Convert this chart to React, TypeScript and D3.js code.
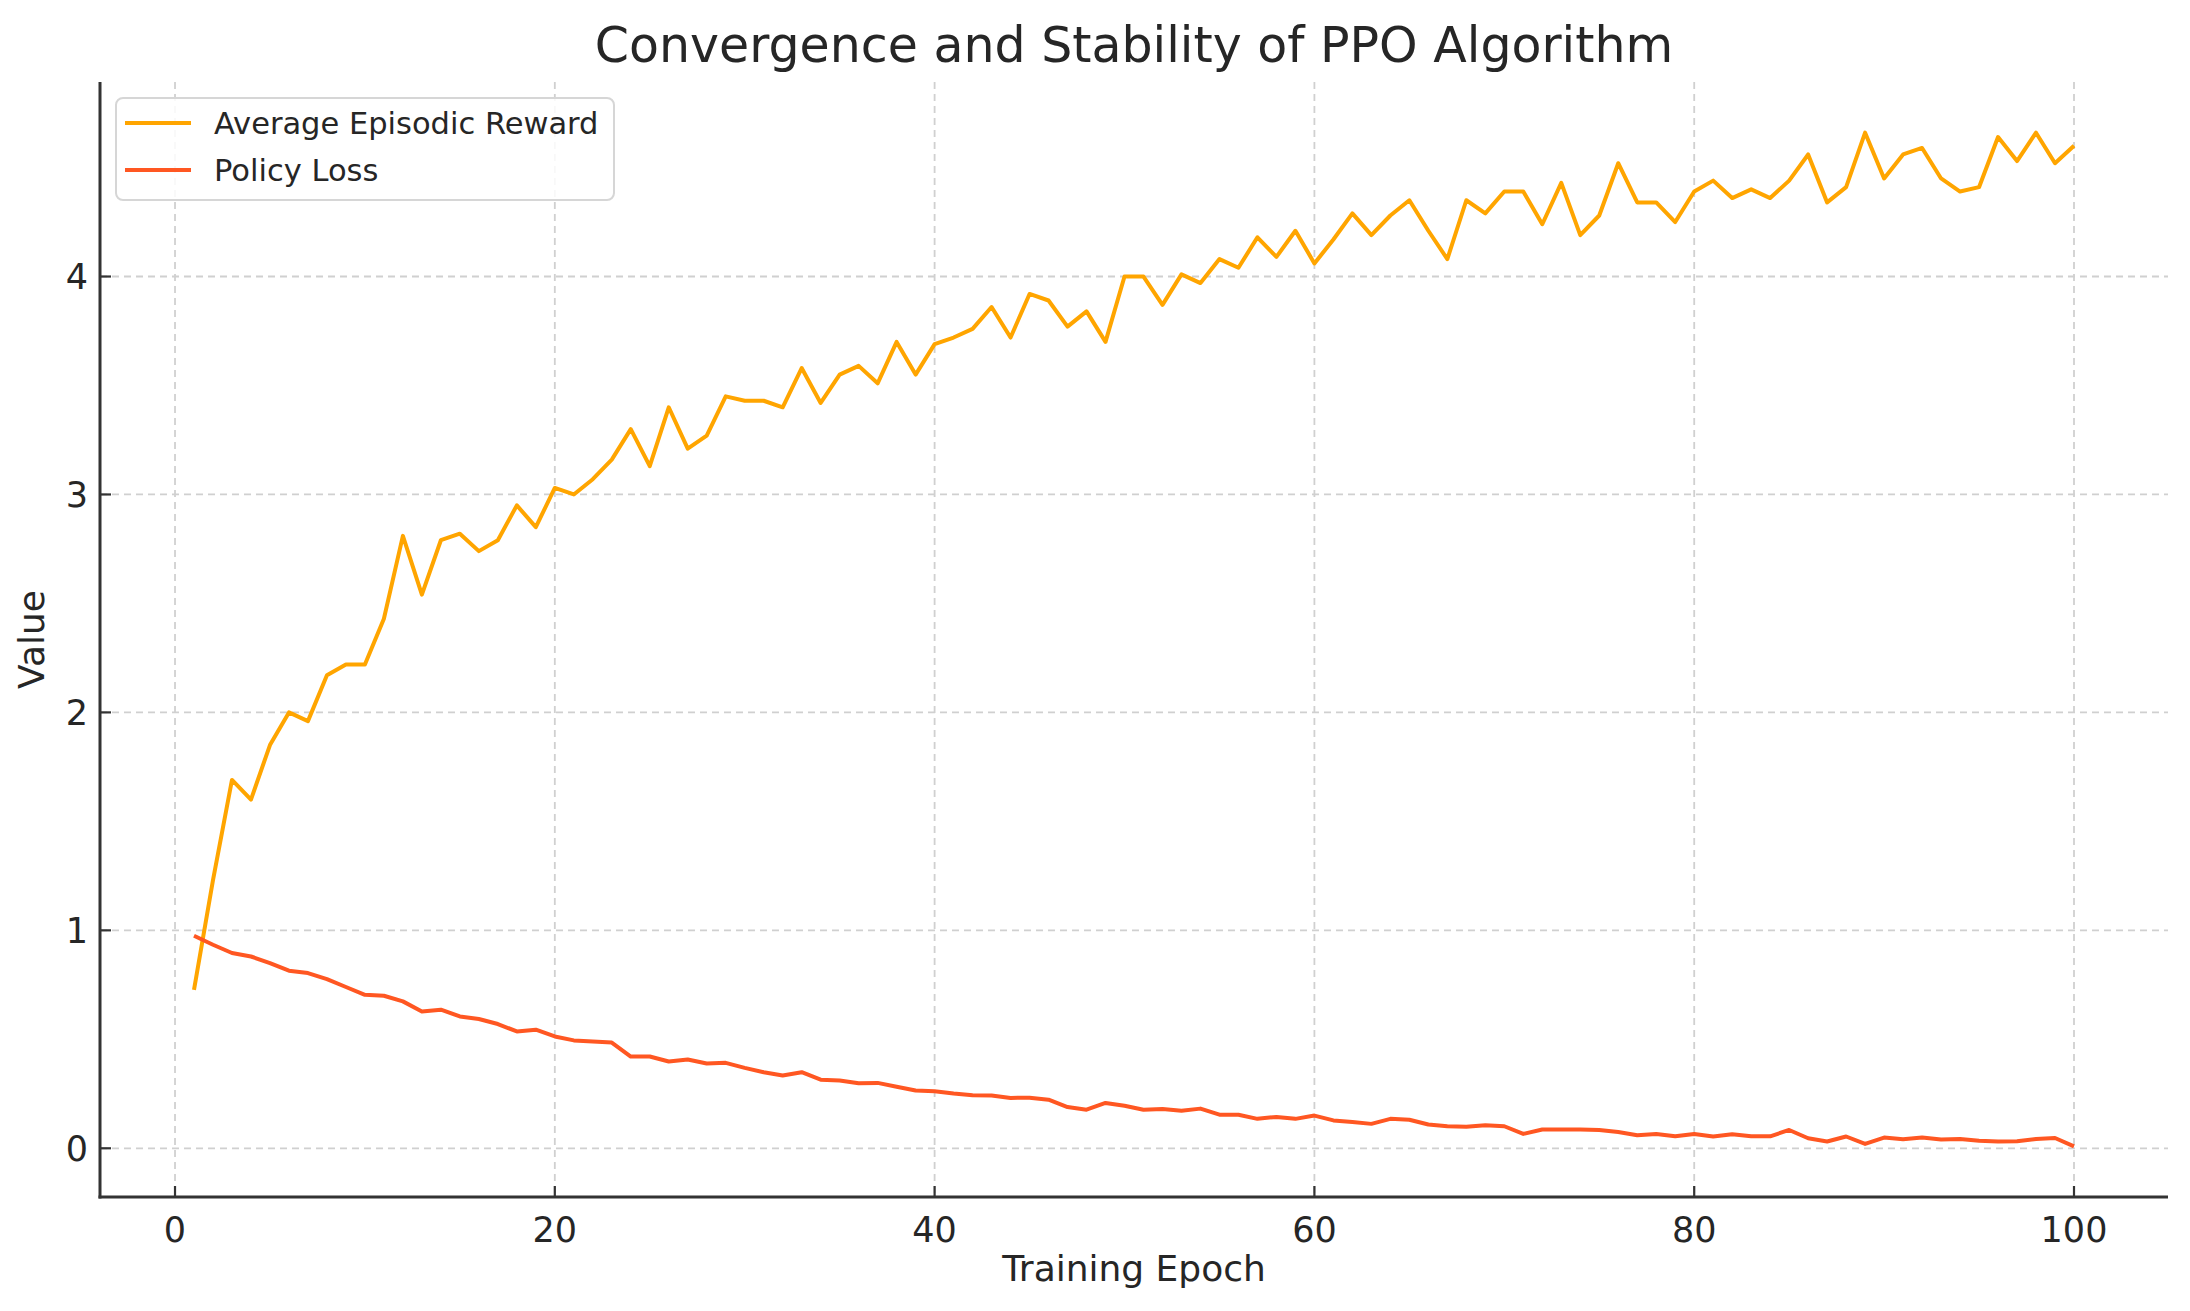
import * as d3 from 'd3';

const epochs = d3.range(1, 101);

const rewardValues = [
    0.727, 1.23, 1.69, 1.6, 1.85, 2.0, 1.96, 2.17, 2.22, 2.22,
    2.43, 2.81, 2.54, 2.79, 2.82, 2.74, 2.79, 2.95, 2.85, 3.03,
    3.0, 3.07, 3.16, 3.3, 3.13, 3.4, 3.21, 3.27, 3.45, 3.43,
    3.43, 3.4, 3.58, 3.42, 3.55, 3.59, 3.51, 3.7, 3.55, 3.69,
    3.72, 3.76, 3.86, 3.72, 3.92, 3.89, 3.77, 3.84, 3.7, 4.0,
    4.0, 3.87, 4.01, 3.97, 4.08, 4.04, 4.18, 4.09, 4.21, 4.06,
    4.17, 4.29, 4.19, 4.28, 4.35, 4.21, 4.08, 4.35, 4.29, 4.39,
    4.39, 4.24, 4.43, 4.19, 4.28, 4.52, 4.34, 4.34, 4.25, 4.39,
    4.44, 4.36, 4.4, 4.36, 4.44, 4.56, 4.34, 4.41, 4.66, 4.45,
    4.56, 4.59, 4.45, 4.39, 4.41, 4.64, 4.53, 4.66, 4.52, 4.6,
];

const lossValues = [
    0.975, 0.934, 0.896, 0.88, 0.85, 0.815, 0.804, 0.776, 0.74, 0.704,
    0.7, 0.674, 0.628, 0.636, 0.605, 0.593, 0.57, 0.536, 0.544, 0.513,
    0.495, 0.49, 0.485, 0.421, 0.421, 0.398, 0.407, 0.389, 0.392, 0.369,
    0.349, 0.334, 0.349, 0.315, 0.311, 0.298, 0.3, 0.282, 0.265, 0.262,
    0.251, 0.243, 0.242, 0.231, 0.232, 0.223, 0.189, 0.177, 0.208, 0.195,
    0.177, 0.18, 0.172, 0.182, 0.154, 0.154, 0.135, 0.144, 0.135, 0.15,
    0.128, 0.121, 0.112, 0.135, 0.131, 0.109, 0.101, 0.099, 0.106, 0.101,
    0.066, 0.086, 0.086, 0.086, 0.084, 0.075, 0.06, 0.066, 0.055, 0.066,
    0.054, 0.064, 0.055, 0.055, 0.084, 0.046, 0.031, 0.054, 0.02, 0.049,
    0.041, 0.049, 0.04, 0.043, 0.035, 0.031, 0.032, 0.043, 0.047, 0.009,
];

const xTicks = [0, 20, 40, 60, 80, 100];
const yTicks = [0, 1, 2, 3, 4];

const series = [
    { name: 'Average Episodic Reward', values: rewardValues, color: '#FFA500' },
    { name: 'Policy Loss', values: lossValues, color: '#FF5722' },
];

const width = 2190;
const height = 1311;
const marginLeft = 100;
const marginRight = 22;
const marginTop = 82;
const marginBottom = 114;
const font = '"DejaVu Sans", Verdana, sans-serif';
const textColor = '#262626';
const spineColor = '#333';

// matplotlib style 5% padding around the data
function padded(lo: number, hi: number): [number, number] {
    const m = (hi - lo) * 0.05;
    return [lo - m, hi + m];
}

export default function App() {
    const allValues = [...rewardValues, ...lossValues];
    const xScale = d3
        .scaleLinear()
        .domain(padded(d3.min(epochs)!, d3.max(epochs)!))
        .range([marginLeft, width - marginRight]);
    const yScale = d3
        .scaleLinear()
        .domain(padded(d3.min(allValues)!, d3.max(allValues)!))
        .range([height - marginBottom, marginTop]);

    const left = marginLeft;
    const right = width - marginRight;
    const top = marginTop;
    const bottom = height - marginBottom;

    const line = d3
        .line<number>()
        .x((_, i) => xScale(epochs[i]))
        .y(d => yScale(d));

    return (
        <>
            <style>{`body{margin:0;overflow:hidden;background:#fff}`}</style>
            <svg width={width} height={height} style={{ display: 'block', background: 'white' }} fontFamily={font}>
                {/* grid */}
                <g stroke="#d0d0d0" strokeWidth={1.8} strokeDasharray="7,5">
                    {xTicks.map(t => (
                        <line key={'gx' + t} x1={xScale(t)} x2={xScale(t)} y1={top} y2={bottom} />
                    ))}
                    {yTicks.map(t => (
                        <line key={'gy' + t} x1={left} x2={right} y1={yScale(t)} y2={yScale(t)} />
                    ))}
                </g>

                {/* series */}
                {series.map(s => (
                    <path
                        key={s.name}
                        d={line(s.values) ?? ''}
                        fill="none"
                        stroke={s.color}
                        strokeWidth={4}
                        strokeLinejoin="round"
                        strokeLinecap="butt"
                    />
                ))}

                {/* spines */}
                <g stroke={spineColor} strokeWidth={3}>
                    <line x1={left} x2={left} y1={top} y2={bottom + 1.5} />
                    <line x1={left - 1.5} x2={right} y1={bottom} y2={bottom} />
                </g>

                {/* x ticks */}
                <g>
                    {xTicks.map(t => (
                        <g key={'xt' + t} transform={`translate(${xScale(t)},0)`}>
                            <line y1={bottom} y2={bottom - 11} stroke={spineColor} strokeWidth={2.2} />
                            <text y={bottom + 45} textAnchor="middle" fontSize={35} fill={textColor}>
                                {t}
                            </text>
                        </g>
                    ))}
                </g>

                {/* y ticks */}
                <g>
                    {yTicks.map(t => (
                        <g key={'yt' + t} transform={`translate(0,${yScale(t)})`}>
                            <line x1={left} x2={left + 11} stroke={spineColor} strokeWidth={2.2} />
                            <text x={left - 12} dy="0.36em" textAnchor="end" fontSize={35} fill={textColor}>
                                {t}
                            </text>
                        </g>
                    ))}
                </g>

                {/* labels */}
                <text
                    x={(left + right) / 2}
                    y={62}
                    textAnchor="middle"
                    fontSize={49}
                    fill={textColor}
                >
                    Convergence and Stability of PPO Algorithm
                </text>
                <text x={(left + right) / 2} y={1281} textAnchor="middle" fontSize={36} fill={textColor}>
                    Training Epoch
                </text>
                <text
                    transform={`translate(44,${(top + bottom) / 2}) rotate(-90)`}
                    textAnchor="middle"
                    fontSize={36}
                    fill={textColor}
                >
                    Value
                </text>

                {/* legend */}
                <g transform="translate(116,98)">
                    <rect width={498} height={102} rx={7} fill="white" fillOpacity={0.85} stroke="#d6d6d6" strokeWidth={2} />
                    {series.map((s, i) => (
                        <g key={'lg' + s.name} transform={`translate(0,${25 + i * 47})`}>
                            <line x1={9} x2={75} stroke={s.color} strokeWidth={4} />
                            <text x={98} dy="0.35em" fontSize={30.5} fill={textColor}>
                                {s.name}
                            </text>
                        </g>
                    ))}
                </g>
            </svg>
        </>
    );
}
